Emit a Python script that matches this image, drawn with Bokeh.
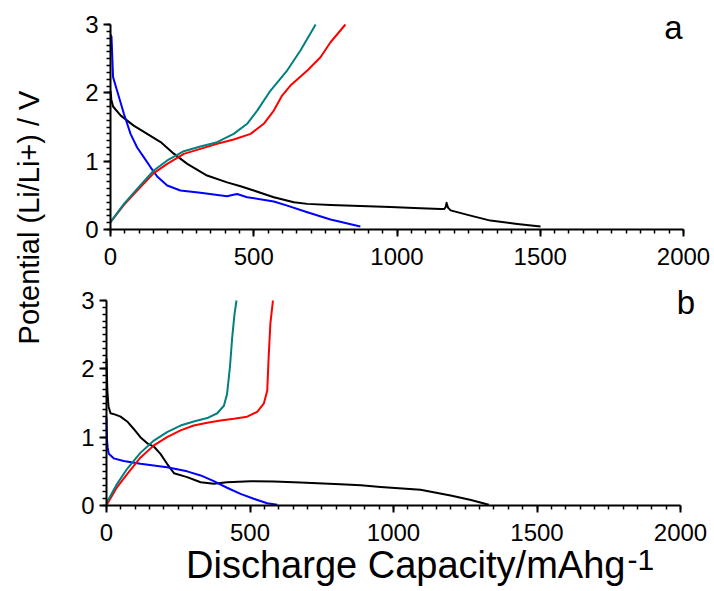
import math
from bokeh.plotting import figure
from bokeh.models import Range1d, FixedTicker, Label, LinearAxis
from bokeh.embed import file_html
from bokeh.resources import INLINE

FONT = "Liberation Sans"

# ---------------- data ----------------
x_ticks = [0, 500, 1000, 1500, 2000]
y_ticks = [0, 1, 2, 3]

# panel a
a_black_x = [0, 3, 9, 35, 81, 128, 175, 221, 268, 337, 407, 454, 500, 570, 640, 687, 768, 872,
             977, 1060, 1152, 1165, 1170, 1173, 1178, 1187, 1250, 1326, 1420, 1501]
a_black_y = [2.03, 1.9, 1.80, 1.67, 1.52, 1.40, 1.28, 1.11, 0.96, 0.79, 0.69, 0.634, 0.57, 0.473,
             0.40, 0.375, 0.36, 0.345, 0.33, 0.315, 0.30, 0.30, 0.33, 0.39, 0.32, 0.28,
             0.21, 0.13, 0.08, 0.044]
a_blue_x = [0, 3.5, 9, 23, 47, 70, 93, 116, 140, 163, 198, 244, 314, 407, 425, 442, 477, 570, 617,
            687, 768, 872]
a_blue_y = [2.85, 2.82, 2.23, 2.03, 1.69, 1.40, 1.20, 1.06, 0.91, 0.776, 0.644, 0.57, 0.537, 0.488,
            0.505, 0.52, 0.473, 0.41, 0.35, 0.253, 0.146, 0.044]
a_red_x = [0, 47, 93, 151, 198, 256, 314, 372, 430, 489, 535, 570, 599, 628, 687, 733, 768, 820]
a_red_y = [0.107, 0.36, 0.57, 0.825, 0.96, 1.107, 1.18, 1.254, 1.317, 1.40, 1.547, 1.74, 1.96,
           2.107, 2.327, 2.52, 2.74, 3.0]
a_teal_x = [0, 47, 93, 151, 198, 256, 314, 372, 430, 477, 512, 558, 617, 663, 716]
a_teal_y = [0.107, 0.376, 0.595, 0.863, 1.01, 1.146, 1.215, 1.278, 1.40, 1.547, 1.74, 2.03, 2.33,
            2.62, 3.0]

# panel b
b_black_x = [0, 3, 7, 14, 31, 49, 72, 95, 118, 142, 165, 188, 211, 235, 281, 328, 374, 420, 502,
             583, 676, 735, 815, 886, 955, 1094, 1199, 1270, 1332]
b_black_y = [2.15, 1.68, 1.45, 1.35, 1.33, 1.30, 1.23, 1.12, 1.0, 0.91, 0.863, 0.756, 0.61, 0.473,
             0.415, 0.34, 0.317, 0.34, 0.356, 0.351, 0.337, 0.327, 0.31, 0.295, 0.27, 0.23, 0.146,
             0.08, 0.01]
b_blue_x = [0, 2, 4, 8, 25, 60, 118, 211, 281, 328, 374, 420, 467, 513, 560, 595]
b_blue_y = [1.29, 0.95, 0.85, 0.756, 0.69, 0.65, 0.61, 0.56, 0.50, 0.44, 0.356, 0.26, 0.17, 0.098,
            0.034, 0.01]
b_red_x = [2, 37, 72, 118, 165, 211, 258, 304, 351, 397, 444, 490, 525, 548, 560, 565, 571, 580]
b_red_y = [0.02, 0.27, 0.46, 0.70, 0.88, 1.0, 1.10, 1.17, 1.21, 1.244, 1.27, 1.30, 1.37, 1.49,
           1.68, 2.17, 2.66, 3.0]
b_teal_x = [2, 37, 72, 118, 165, 211, 258, 304, 351, 386, 409, 420, 430, 438, 446, 453]
b_teal_y = [0.05, 0.317, 0.537, 0.77, 0.95, 1.073, 1.17, 1.23, 1.28, 1.35, 1.46, 1.63, 2.02, 2.46,
            2.8, 3.0]

BLACK, BLUE, RED, TEAL = "#000000", "#0000ff", "#ff0000", "#008080"

# ---------------- geometry (pixels) ----------------
W, H = 714, 591
A_LEFT, A_RIGHT, A_TOP, A_BOTTOM = 110, 683, 24, 229      # panel a frame
B_LEFT, B_RIGHT, B_TOP, B_BOTTOM = 106, 680, 300, 505     # panel b frame
X_MAX, Y_MAX = 2000.0, 3.0


def hspan(lo_px, hi_px):
    per = (hi_px - lo_px) / X_MAX
    return Range1d(-lo_px / per, (W - lo_px) / per)


def vspan(zero_px, top_px):
    per = (zero_px - top_px) / Y_MAX
    return Range1d(-(H - zero_px) / per, zero_px / per)


p = figure(frame_width=W, frame_height=H, min_border=0,
           x_range=hspan(A_LEFT, A_RIGHT), y_range=vspan(A_BOTTOM, A_TOP),
           x_axis_location=None, y_axis_location=None,
           output_backend="svg", toolbar_location=None)
p.extra_x_ranges = {"xb": hspan(B_LEFT, B_RIGHT)}
p.extra_y_ranges = {"yb": vspan(B_BOTTOM, B_TOP)}
p.outline_line_color = None
p.grid.visible = False


def style_axis(ax, is_x):
    ax.fixed_location = 0
    ax.bounds = (0, X_MAX) if is_x else (0, Y_MAX)
    if is_x:
        ax.ticker = FixedTicker(ticks=x_ticks, minor_ticks=list(range(0, 2001, 50)))
        ax.major_label_standoff = 11
    else:
        ax.ticker = FixedTicker(ticks=y_ticks, minor_ticks=[i / 10 for i in range(0, 31)])
        ax.major_label_standoff = 5
    ax.axis_line_width = 2
    ax.axis_line_color = "black"
    ax.major_tick_line_width = 2
    ax.minor_tick_line_width = 1.5
    ax.major_tick_line_color = "black"
    ax.minor_tick_line_color = "black"
    ax.major_tick_in = 0
    ax.major_tick_out = 7
    ax.minor_tick_in = 0
    ax.minor_tick_out = 4
    ax.major_label_text_font = FONT
    ax.major_label_text_font_size = "24px"
    ax.major_label_text_color = "black"


xa = LinearAxis()
style_axis(xa, True)
p.add_layout(xa, "below")
ya = LinearAxis()
style_axis(ya, False)
p.add_layout(ya, "left")
xb = LinearAxis(x_range_name="xb", y_range_name="yb")
style_axis(xb, True)
p.add_layout(xb, "below")
yb = LinearAxis(x_range_name="xb", y_range_name="yb")
style_axis(yb, False)
p.add_layout(yb, "left")

for xs, ys, c in ((a_black_x, a_black_y, BLACK), (a_blue_x, a_blue_y, BLUE),
                  (a_red_x, a_red_y, RED), (a_teal_x, a_teal_y, TEAL)):
    p.line(xs, ys, line_color=c, line_width=2, line_join="round")
for xs, ys, c in ((b_black_x, b_black_y, BLACK), (b_blue_x, b_blue_y, BLUE),
                  (b_red_x, b_red_y, RED), (b_teal_x, b_teal_y, TEAL)):
    p.line(xs, ys, line_color=c, line_width=2, line_join="round",
           x_range_name="xb", y_range_name="yb")

# panel letters (text centred vertically on the letter's em box)
p.add_layout(Label(x=1965, y=2.962, text="a", text_align="center", text_baseline="middle",
                   text_font=FONT, text_font_size="33px", text_color="black"))
p.add_layout(Label(x=2019, y=2.977, text="b", text_align="center", text_baseline="middle",
                   text_font=FONT, text_font_size="33px", text_color="black",
                   x_range_name="xb", y_range_name="yb"))

# axis titles
p.add_layout(Label(x=1808, y=-0.875, text="Discharge Capacity/mAhg", text_align="right",
                   text_baseline="middle", text_font=FONT, text_font_size="38px",
                   text_color="black", x_range_name="xb", y_range_name="yb"))
p.add_layout(Label(x=1815, y=-0.799, text="-1", text_align="left",
                   text_baseline="middle", text_font=FONT, text_font_size="30px",
                   text_color="black", x_range_name="xb", y_range_name="yb"))
p.add_layout(Label(x=-286, y=0.176, text="Potential (Li/Li+) / V", angle=math.pi / 2,
                   text_align="center", text_baseline="middle", text_font=FONT,
                   text_font_size="29px", text_color="black"))

open("out.html", "w").write(file_html(p, INLINE))
